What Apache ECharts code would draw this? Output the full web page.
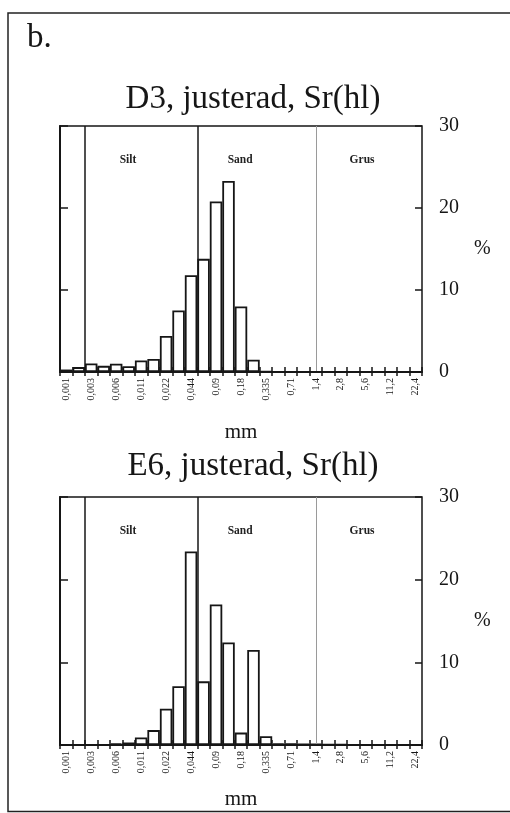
<!DOCTYPE html>
<html>
<head>
<meta charset="utf-8">
<script src="https://cdn.jsdelivr.net/npm/echarts@6/dist/echarts.min.js"></script>
<style>
html,body{margin:0;padding:0;background:#fff;}
#chart{width:510px;height:813px;}
</style>
</head>
<body>
<div id="chart"></div>
<script>
// Grain size classes (mm), every second one is labelled
const sizeCats = ['0,001','0,002','0,003','0,004','0,006','0,008','0,011','0,016','0,022','0,031','0,044','0,063','0,09','0,125','0,18','0,25','0,335','0,5','0,71','1','1,4','2','2,8','4','5,6','8','11,2','16','22,4'];
// % per class
const d3Values = [0.3,0.6,1.05,0.75,1.0,0.7,1.4,1.6,4.4,7.5,11.8,13.8,20.8,23.3,8.0,1.5,0.1,0.05,0.05,0,0,0,0,0,0,0,0,0,0];
const e6Values = [0,0,0,0.05,0.2,0.3,0.9,1.8,4.4,7.1,23.4,7.7,17.0,12.4,1.5,11.5,1.05,0.2,0.2,0.15,0.15,0.1,0.1,0,0,0,0,0,0];
const panelTitles = ['D3, justerad, Sr(hl)', 'E6, justerad, Sr(hl)'];
const classNames = ['Silt','Sand','Grus'];
const classBounds = [2, 11, 20.5];     // class boundaries, in class-index units
const yTicks = [0, 10, 20, 30];

const SERIF = "'Liberation Serif','Times New Roman',serif";
const INK = '#161616';
const chart = echarts.init(document.getElementById('chart'));

const grids = [
  {left: 60, right: 88, top: 126, height: 246, show: true, borderColor: INK, borderWidth: 1.5},
  {left: 60, right: 88, top: 497, height: 248, show: true, borderColor: INK, borderWidth: 1.5}
];
const nameGaps = [50, 44];

const xAxes = [], yAxes = [], series = [];
const labelPos = [[5.45, 25.9], [14.43, 25.9], [24.2, 25.9]];
[d3Values, e6Values].forEach((vals, g) => {
  const xi = xAxes.length, yi = yAxes.length;
  xAxes.push({
    type: 'category', gridIndex: g, data: sizeCats, z: 5,
    axisLine: {lineStyle: {color: INK, width: 2}},
    axisTick: {show: true, interval: 0, length: 4, lineStyle: {color: INK, width: 1.5}},
    axisLabel: {interval: 1, rotate: 90, fontSize: 10, fontFamily: SERIF, color: INK, margin: 6},
    name: 'mm', nameLocation: 'middle', nameGap: nameGaps[g],
    nameTextStyle: {fontSize: 21, fontFamily: SERIF, color: INK},
    splitLine: {show: false}
  });
  xAxes.push({
    type: 'category', gridIndex: g, data: sizeCats, position: 'bottom', z: 5,
    axisLine: {show: false},
    axisTick: {show: true, inside: true, interval: 0, length: 5, lineStyle: {color: INK, width: 1.5}},
    axisLabel: {show: false}, splitLine: {show: false}
  });
  xAxes.push({type: 'value', gridIndex: g, min: 0, max: sizeCats.length, show: false});
  yAxes.push({
    type: 'value', gridIndex: g, position: 'right', min: yTicks[0], max: yTicks[yTicks.length-1], interval: 10, z: 5,
    axisLine: {show: true, lineStyle: {color: INK, width: 2}},
    axisTick: {show: true, length: 8, lineStyle: {color: INK, width: 1.5}},
    axisLabel: {fontSize: 20, fontFamily: SERIF, color: INK, margin: 17},
    splitLine: {show: false},
    name: '%', nameLocation: 'middle', nameRotate: 0, nameGap: 52,
    nameTextStyle: {fontSize: 20, fontFamily: SERIF, color: INK, align: 'left'}
  });
  yAxes.push({
    type: 'value', gridIndex: g, position: 'right', min: yTicks[0], max: yTicks[yTicks.length-1], interval: 10, z: 5,
    axisLine: {show: false},
    axisTick: {show: true, inside: true, length: 7, lineStyle: {color: INK, width: 1.5}},
    axisLabel: {show: false}, splitLine: {show: false}
  });
  series.push({
    type: 'bar', xAxisIndex: xi, yAxisIndex: yi, data: vals, barCategoryGap: 0, z: 3,
    itemStyle: {color: '#fff', borderColor: INK, borderWidth: 1.8},
    silent: true
  });
  series.push({
    type: 'line', xAxisIndex: xi + 2, yAxisIndex: yi, data: [], silent: true, z: 4,
    markLine: {
      symbol: 'none', silent: true, animation: false, label: {show: false},
      data: classBounds.map((b, i) => ({
        xAxis: b,
        lineStyle: i < 2 ? {color: INK, width: 1.5, type: 'solid'} : {color: '#9a9a9a', width: 1, type: 'solid'}
      }))
    },
    markPoint: {
      symbol: 'rect', symbolSize: 0, silent: true, animation: false,
      label: {show: true, position: 'inside', fontSize: 11.5, fontWeight: 'bold', fontFamily: SERIF, color: '#222'},
      data: classNames.map((n, i) => ({coord: labelPos[i], value: n, label: {formatter: n}}))
    }
  });
});

chart.setOption({
  animation: false,
  backgroundColor: '#fff',
  grid: grids,
  xAxis: xAxes,
  yAxis: yAxes,
  series: series,
  graphic: [
    {type: 'rect', shape: {x: 8, y: 13, width: 530, height: 798.5}, style: {fill: 'none', stroke: '#222', lineWidth: 1.5}, silent: true},
    {type: 'text', style: {text: 'b.', x: 27, y: 38, fontSize: 33, fontFamily: SERIF, fill: INK, align: 'left', verticalAlign: 'middle'}},
    {type: 'text', style: {text: panelTitles[0], x: 253, y: 99, fontSize: 33, fontFamily: SERIF, fill: INK, align: 'center', verticalAlign: 'middle'}},
    {type: 'text', style: {text: panelTitles[1], x: 253, y: 466, fontSize: 33, fontFamily: SERIF, fill: INK, align: 'center', verticalAlign: 'middle'}}
  ]
});
</script>
</body>
</html>
